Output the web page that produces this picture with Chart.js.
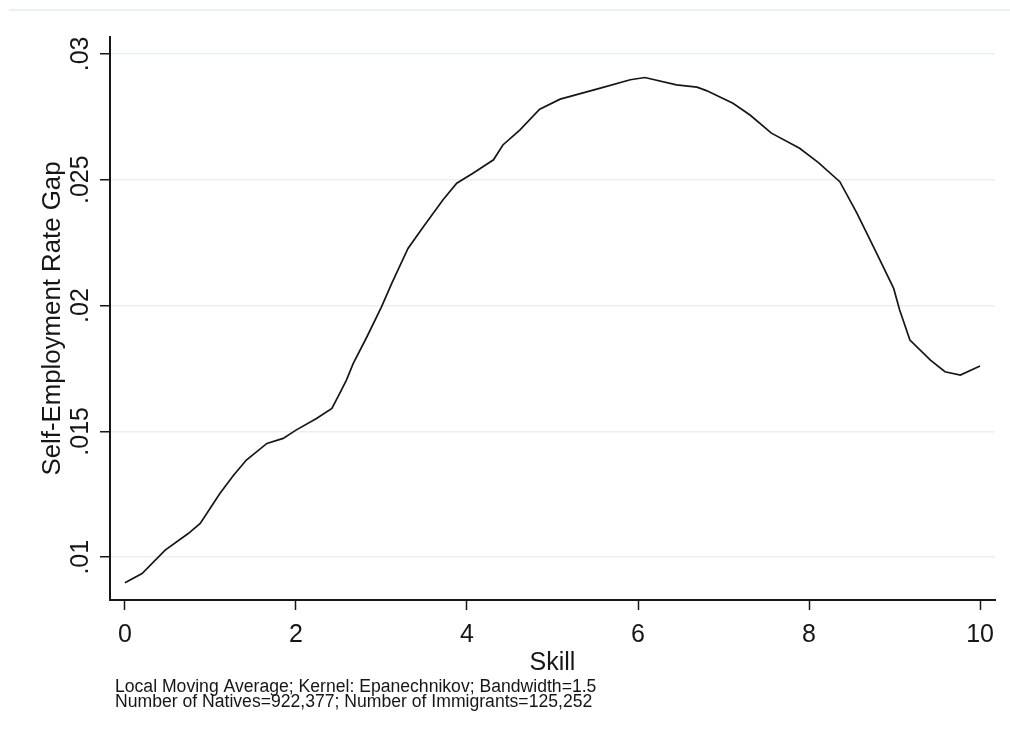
<!DOCTYPE html>
<html>
<head>
<meta charset="utf-8">
<script src="https://cdn.jsdelivr.net/npm/chart.js@4.4.0/dist/chart.umd.min.js"></script>
<style>
  html, body { margin: 0; padding: 0; background: #fff; }
  canvas { display: block; }
</style>
</head>
<body>
<canvas id="chart" width="1010" height="742"></canvas>
<script>
// values
const skill = [0, 0.2, 0.47, 0.74, 0.88, 1.11, 1.27, 1.42, 1.66, 1.85,
  2.0, 2.24, 2.42, 2.51, 2.59, 2.67, 2.83, 3.0, 3.12, 3.31,
  3.49, 3.72, 3.88, 4.07, 4.31, 4.42, 4.62, 4.85, 5.09, 5.56,
  5.91, 6.08, 6.45, 6.69, 6.8, 7.11, 7.31, 7.56, 7.89, 8.11,
  8.36, 8.56, 8.79, 8.99, 9.06, 9.18, 9.42, 9.59, 9.77, 10.0];
const gap = [0.00899, 0.00935, 0.01028, 0.01094, 0.01134, 0.01253, 0.01326, 0.01386, 0.01452, 0.01472,
  0.01505, 0.01551, 0.01591, 0.0165, 0.01704, 0.0177, 0.01876, 0.01995, 0.02088, 0.02227,
  0.02313, 0.0242, 0.02486, 0.02526, 0.02579, 0.02638, 0.02698, 0.0278, 0.0282, 0.02864,
  0.02897, 0.02906, 0.02877, 0.02868, 0.02854, 0.02804, 0.02757, 0.02685, 0.02625, 0.02568,
  0.02492, 0.02367, 0.02208, 0.02068, 0.01982, 0.01863, 0.01783, 0.01737, 0.01724, 0.0176];

const xTicks = [0, 2, 4, 6, 8, 10];
const yTicks = [0.01, 0.015, 0.02, 0.025, 0.03];
const xTitle = 'Skill';
const yTitle = 'Self-Employment Rate Gap';
const notes = [
  'Local Moving Average; Kernel: Epanechnikov; Bandwidth=1.5',
  'Number of Natives=922,377; Number of Immigrants=125,252'
];

const FONT = '"Liberation Sans", Arial, sans-serif';
const INK = '#161616';
const GRID = '#e8f0f2';

function yLabel(v) {
  return String(v).replace(/^0/, '');
}

// stata-like texts: rotated y tick labels, axis titles, notes, outer frame line
const stataText = {
  id: 'stataText',
  afterDraw(chart) {
    const ctx = chart.ctx;
    const area = chart.chartArea;
    const ys = chart.scales.y;
    ctx.save();

    ctx.strokeStyle = GRID;
    ctx.lineWidth = 2;
    ctx.beginPath();
    ctx.moveTo(9, 10);
    ctx.lineTo(chart.width, 10);
    ctx.stroke();

    ctx.fillStyle = INK;
    ctx.font = '25px ' + FONT;
    ctx.textAlign = 'center';
    ctx.textBaseline = 'alphabetic';
    yTicks.forEach(v => {
      const py = ys.getPixelForValue(v);
      ctx.save();
      ctx.translate(88, py);
      ctx.rotate(-Math.PI / 2);
      ctx.fillText(yLabel(v), 0, 0);
      ctx.restore();
    });

    ctx.font = '25.8px ' + FONT;
    ctx.save();
    ctx.translate(60, (area.top + area.bottom) / 2);
    ctx.rotate(-Math.PI / 2);
    ctx.fillText(yTitle, 0, 0);
    ctx.restore();

    ctx.font = '25px ' + FONT;
    ctx.fillText(xTitle, (area.left + area.right) / 2, 670);

    ctx.font = '17.6px ' + FONT;
    ctx.textAlign = 'left';
    ctx.fillText(notes[0], 115, 692);
    ctx.fillText(notes[1], 115, 707);
    ctx.restore();
  }
};

new Chart(document.getElementById('chart'), {
  type: 'line',
  data: {
    datasets: [{
      data: skill.map((s, i) => ({ x: s, y: gap[i] })),
      borderColor: INK,
      borderWidth: 1.7,
      pointRadius: 0,
      tension: 0,
      fill: false
    }]
  },
  options: {
    responsive: false,
    animation: false,
    layout: { padding: { top: 37, right: 15, left: 0, bottom: 0 } },
    plugins: { legend: { display: false }, tooltip: { enabled: false } },
    scales: {
      x: {
        type: 'linear',
        min: -0.175,
        max: 10.175,
        afterBuildTicks: s => { s.ticks = xTicks.map(v => ({ value: v })); },
        afterFit: s => { s.height = 142; },
        grid: { drawOnChartArea: false, tickColor: INK, tickLength: 10, tickWidth: 1.5 },
        border: { color: INK, width: 2 },
        ticks: {
          padding: 10,
          color: INK,
          font: { family: FONT, size: 25 },
          maxRotation: 0
        }
      },
      y: {
        type: 'linear',
        min: 0.0083,
        max: 0.03067,
        afterBuildTicks: s => { s.ticks = yTicks.map(v => ({ value: v })); },
        afterFit: s => { s.width = 110; },
        grid: { color: GRID, lineWidth: 1.5, tickColor: INK, tickLength: 10, tickWidth: 1.5 },
        border: { color: INK, width: 2 },
        ticks: { display: false }
      }
    }
  },
  plugins: [stataText]
});
</script>
</body>
</html>
